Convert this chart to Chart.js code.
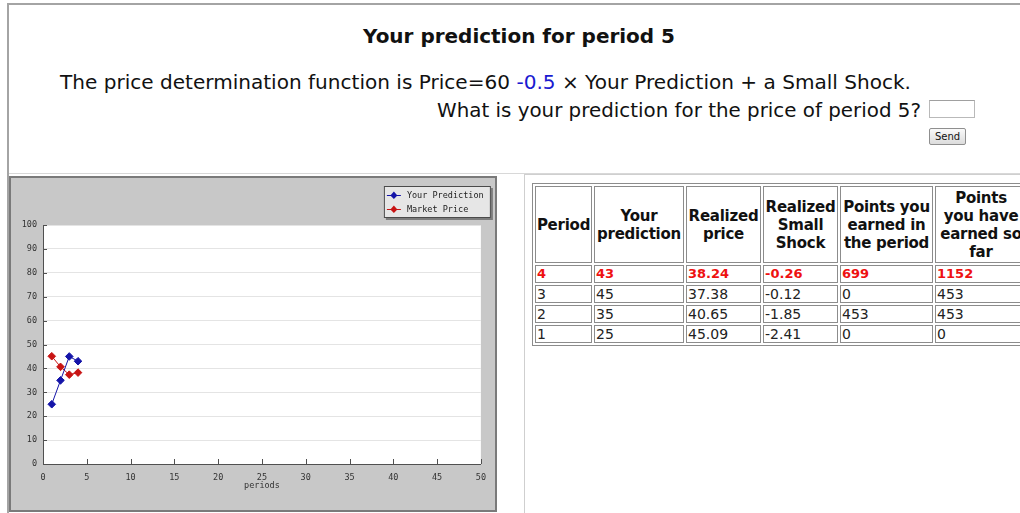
<!DOCTYPE html>
<html>
<head>
<meta charset="utf-8">
<script src="https://cdn.jsdelivr.net/npm/chart.js@4/dist/chart.umd.min.js"></script>
<style>
  html, body { margin:0; padding:0; width:1020px; height:513px; overflow:hidden; background:#fff; }
  #frame { position:absolute; left:7px; top:3px; width:1100px; height:600px; border-left:2px solid #a4a4a4; border-top:2px solid #a4a4a4; }
  #hsep { position:absolute; left:9px; top:173px; width:1100px; height:1px; background:#d8d8d8; }
  .txt { position:absolute; white-space:nowrap; font-family:"DejaVu Sans", Verdana, sans-serif; color:#111; }
  #h1 { font-weight:bold; font-size:19px; }
  #l2, #l3 { font-size:19px; }
  .blue { color:#1a1ad0; }
  #inp { position:absolute; left:929px; top:100px; width:44px; height:16px; border:1px solid #b9b9b9; border-top-color:#a0a0a0; background:#fff; }
  #send { position:absolute; left:929px; top:128px; width:35px; height:15px; border:1px solid #8f8f8f; border-radius:2px;
          background:linear-gradient(#fafafa,#dcdcdc); font:10px "DejaVu Sans", sans-serif; text-align:center; line-height:15px; color:#111; }
  #panel { position:absolute; left:9px; top:176px; width:484px; height:332px; background:#c8c8c8; border:2px solid #7a7a7a; }
  #panel canvas { position:absolute; left:0; top:0; }
  #rpanel { position:absolute; left:524px; top:174px; width:600px; height:400px; border-left:1px solid #cfcfcf; border-top:1px solid #cfcfcf; }
  #tbl { position:absolute; left:532px; top:183px; border:1px solid #8c8c8c; border-collapse:separate; border-spacing:2px; table-layout:fixed;
         font-family:"DejaVu Sans", Verdana, sans-serif; }
  #tbl td, #tbl th { border:1px solid #8c8c8c; box-sizing:border-box; padding:0 1px; overflow:hidden; white-space:nowrap; }
  #tbl th { font-weight:bold; font-size:15px; letter-spacing:-0.25px; padding:0; line-height:18px; text-align:center; vertical-align:middle; height:77px; color:#111; }
  #tbl td { font-size:14px; height:18px; line-height:16px; text-align:left; color:#222; }
  #tbl tr.cur td { color:#ee1111; font-weight:bold; font-size:13px; }
</style>
</head>
<body>
<div id="frame"></div>
<div id="hsep"></div>
<div class="txt" id="h1">Your prediction for period 5</div>
<div class="txt" id="l2">The price determination function is Price=60 <span class="blue">-0.5</span> × Your Prediction + a Small Shock.</div>
<div class="txt" id="l3">What is your prediction for the price of period 5?</div>
<div id="inp"></div>
<div id="send">Send</div>

<div id="panel"><canvas id="c" width="484" height="332"></canvas></div>
<div id="rpanel"></div>
<table id="tbl"></table>

<script>
// ---- data ----
const periods = [1, 2, 3, 4];
const yourPrediction = [25, 35, 45, 43];
const marketPrice = [45.09, 40.65, 37.38, 38.24];
const seriesLabels = ["Your Prediction", "Market Price"];
const xTickValues = [0, 5, 10, 15, 20, 25, 30, 35, 40, 45, 50];
const yTickValues = [0, 10, 20, 30, 40, 50, 60, 70, 80, 90, 100];
const xAxisTitle = "periods";

const tableHeaders = [["Period"], ["Your", "prediction"], ["Realized", "price"], ["Realized", "Small", "Shock"],
                      ["Points you", "earned in", "the period"], ["Points", "you have", "earned so", "far"]];
const tablePeriods = ["4", "3", "2", "1"];
const tablePredictions = ["43", "45", "35", "25"];
const tablePrices = ["38.24", "37.38", "40.65", "45.09"];
const tableShocks = ["-0.26", "-0.12", "-1.85", "-2.41"];
const tablePointsPeriod = ["699", "0", "453", "0"];
const tablePointsTotal = ["1152", "453", "453", "0"];

// ---- header text fitting ----
function place(id, left, right, cy) {
  const el = document.getElementById(id);
  const r = el.getBoundingClientRect();
  const s = (right - left) / r.width;
  el.style.top = (cy - r.height / 2) + "px";
  el.style.left = left + "px";
  el.style.transformOrigin = "left center";
  el.style.transform = "scaleX(" + s + ")";
}
place("h1", 363, 675, 36);
place("l2", 60, 911, 82);
place("l3", 437, 921, 110);

// ---- table ----
const colW = [57, 90, 75, 75, 93, 92];
const tbl = document.getElementById("tbl");
let html = "<colgroup>" + colW.map(w => '<col style="width:' + w + 'px">').join("") + "</colgroup>";
html += "<tr>" + tableHeaders.map(h => "<th>" + h.join("<br>") + "</th>").join("") + "</tr>";
for (let i = 0; i < tablePeriods.length; i++) {
  html += '<tr class="' + (i === 0 ? "cur" : "") + '">' +
    [tablePeriods[i], tablePredictions[i], tablePrices[i], tableShocks[i], tablePointsPeriod[i], tablePointsTotal[i]]
      .map(v => "<td>" + v + "</td>").join("") + "</tr>";
}
tbl.innerHTML = html;
tbl.style.width = (colW.reduce((a, b) => a + b, 0) + 2 * 7 + 2) + "px";

// ---- chart ----
const BLUE = "#1414a8";
const RED = "#c81414";
const AXIS = "#505050";
const monoFont = { family: "'DejaVu Sans Mono', monospace", size: 8.5 };

const innerTicks = {
  id: "innerTicks",
  afterDraw(chart) {
    const { ctx, chartArea: a, scales: { x, y } } = chart;
    ctx.save();
    ctx.strokeStyle = AXIS;
    ctx.lineWidth = 1;
    ctx.beginPath();
    xTickValues.forEach(v => {
      const px = Math.round(x.getPixelForValue(v)) + 0.5;
      ctx.moveTo(px, a.bottom); ctx.lineTo(px, a.bottom - 5);
    });
    yTickValues.forEach(v => {
      const py = Math.round(y.getPixelForValue(v)) + 0.5;
      ctx.moveTo(a.left, py); ctx.lineTo(a.left + 4, py);
    });
    ctx.stroke();
    ctx.restore();
  }
};

const boxLegend = {
  id: "boxLegend",
  afterDraw(chart) {
    const { ctx, chartArea: a } = chart;
    const w = 107, h = 32;
    const bx = a.right + 10 - w, by = 8;
    ctx.save();
    ctx.fillStyle = "#7c7c7c";
    ctx.fillRect(bx + 2, by + 2, w, h);
    ctx.fillStyle = "#e6e6e6";
    ctx.fillRect(bx, by, w, h);
    ctx.strokeStyle = "#4a4a4a";
    ctx.lineWidth = 1;
    ctx.strokeRect(bx + 0.5, by + 0.5, w - 1, h - 1);
    chart.data.datasets.forEach((ds, i) => {
      const ry = by + 9 + i * 14;
      ctx.strokeStyle = ds.borderColor;
      ctx.beginPath();
      ctx.moveTo(bx + 3, ry + 0.5); ctx.lineTo(bx + 17, ry + 0.5);
      ctx.stroke();
      ctx.fillStyle = ds.pointBackgroundColor;
      ctx.beginPath();
      ctx.moveTo(bx + 10, ry - 3.5); ctx.lineTo(bx + 13.5, ry + 0.5);
      ctx.lineTo(bx + 10, ry + 4); ctx.lineTo(bx + 6.5, ry + 0.5);
      ctx.closePath(); ctx.fill();
      ctx.fillStyle = "#222";
      ctx.font = "8.5px 'DejaVu Sans Mono', monospace";
      ctx.textBaseline = "middle";
      ctx.fillText(ds.label, bx + 23, ry + 1);
    });
    ctx.restore();
  }
};

new Chart(document.getElementById("c"), {
  type: "line",
  data: {
    datasets: [
      { label: seriesLabels[0], data: periods.map((p, i) => ({ x: p, y: yourPrediction[i] })),
        borderColor: BLUE, backgroundColor: BLUE, pointBackgroundColor: BLUE, pointBorderColor: BLUE,
        borderWidth: 1, pointStyle: "rectRot", pointRadius: 3.8, tension: 0 },
      { label: seriesLabels[1], data: periods.map((p, i) => ({ x: p, y: marketPrice[i] })),
        borderColor: RED, backgroundColor: RED, pointBackgroundColor: RED, pointBorderColor: RED,
        borderWidth: 1, pointStyle: "rectRot", pointRadius: 3.8, tension: 0 }
    ]
  },
  options: {
    responsive: false,
    animation: false,
    devicePixelRatio: 1,
    layout: { padding: { top: 47, right: 14, left: 0, bottom: 0 } },
    plugins: { legend: { display: false }, tooltip: { enabled: false } },
    scales: {
      x: {
        type: "linear", min: 0, max: 50,
        afterBuildTicks(s) { s.ticks = xTickValues.map(v => ({ value: v })); },
        afterFit(s) { s.height = 46; },
        grid: { drawOnChartArea: false, drawTicks: false },
        border: { display: true, color: AXIS, width: 1 },
        ticks: { font: monoFont, color: "#333", padding: 9, maxRotation: 0, autoSkip: false },
        title: { display: true, text: xAxisTitle, font: monoFont, color: "#333", padding: { top: 0, bottom: 19 } }
      },
      y: {
        min: 0, max: 100,
        afterBuildTicks(s) { s.ticks = yTickValues.map(v => ({ value: v })); },
        afterFit(s) { s.width = 32; },
        grid: { color: "#e4e4e4", lineWidth: 1, drawTicks: false },
        border: { display: true, color: AXIS, width: 1 },
        ticks: { font: monoFont, color: "#333", padding: 6, autoSkip: false }
      }
    }
  },
  plugins: [innerTicks, boxLegend, {
    id: "whiteArea",
    beforeDraw(chart) {
      const { ctx, chartArea: a } = chart;
      ctx.save(); ctx.fillStyle = "#fff";
      ctx.fillRect(a.left, a.top, a.right - a.left, a.bottom - a.top);
      ctx.restore();
    }
  }]
});
</script>
</body>
</html>
